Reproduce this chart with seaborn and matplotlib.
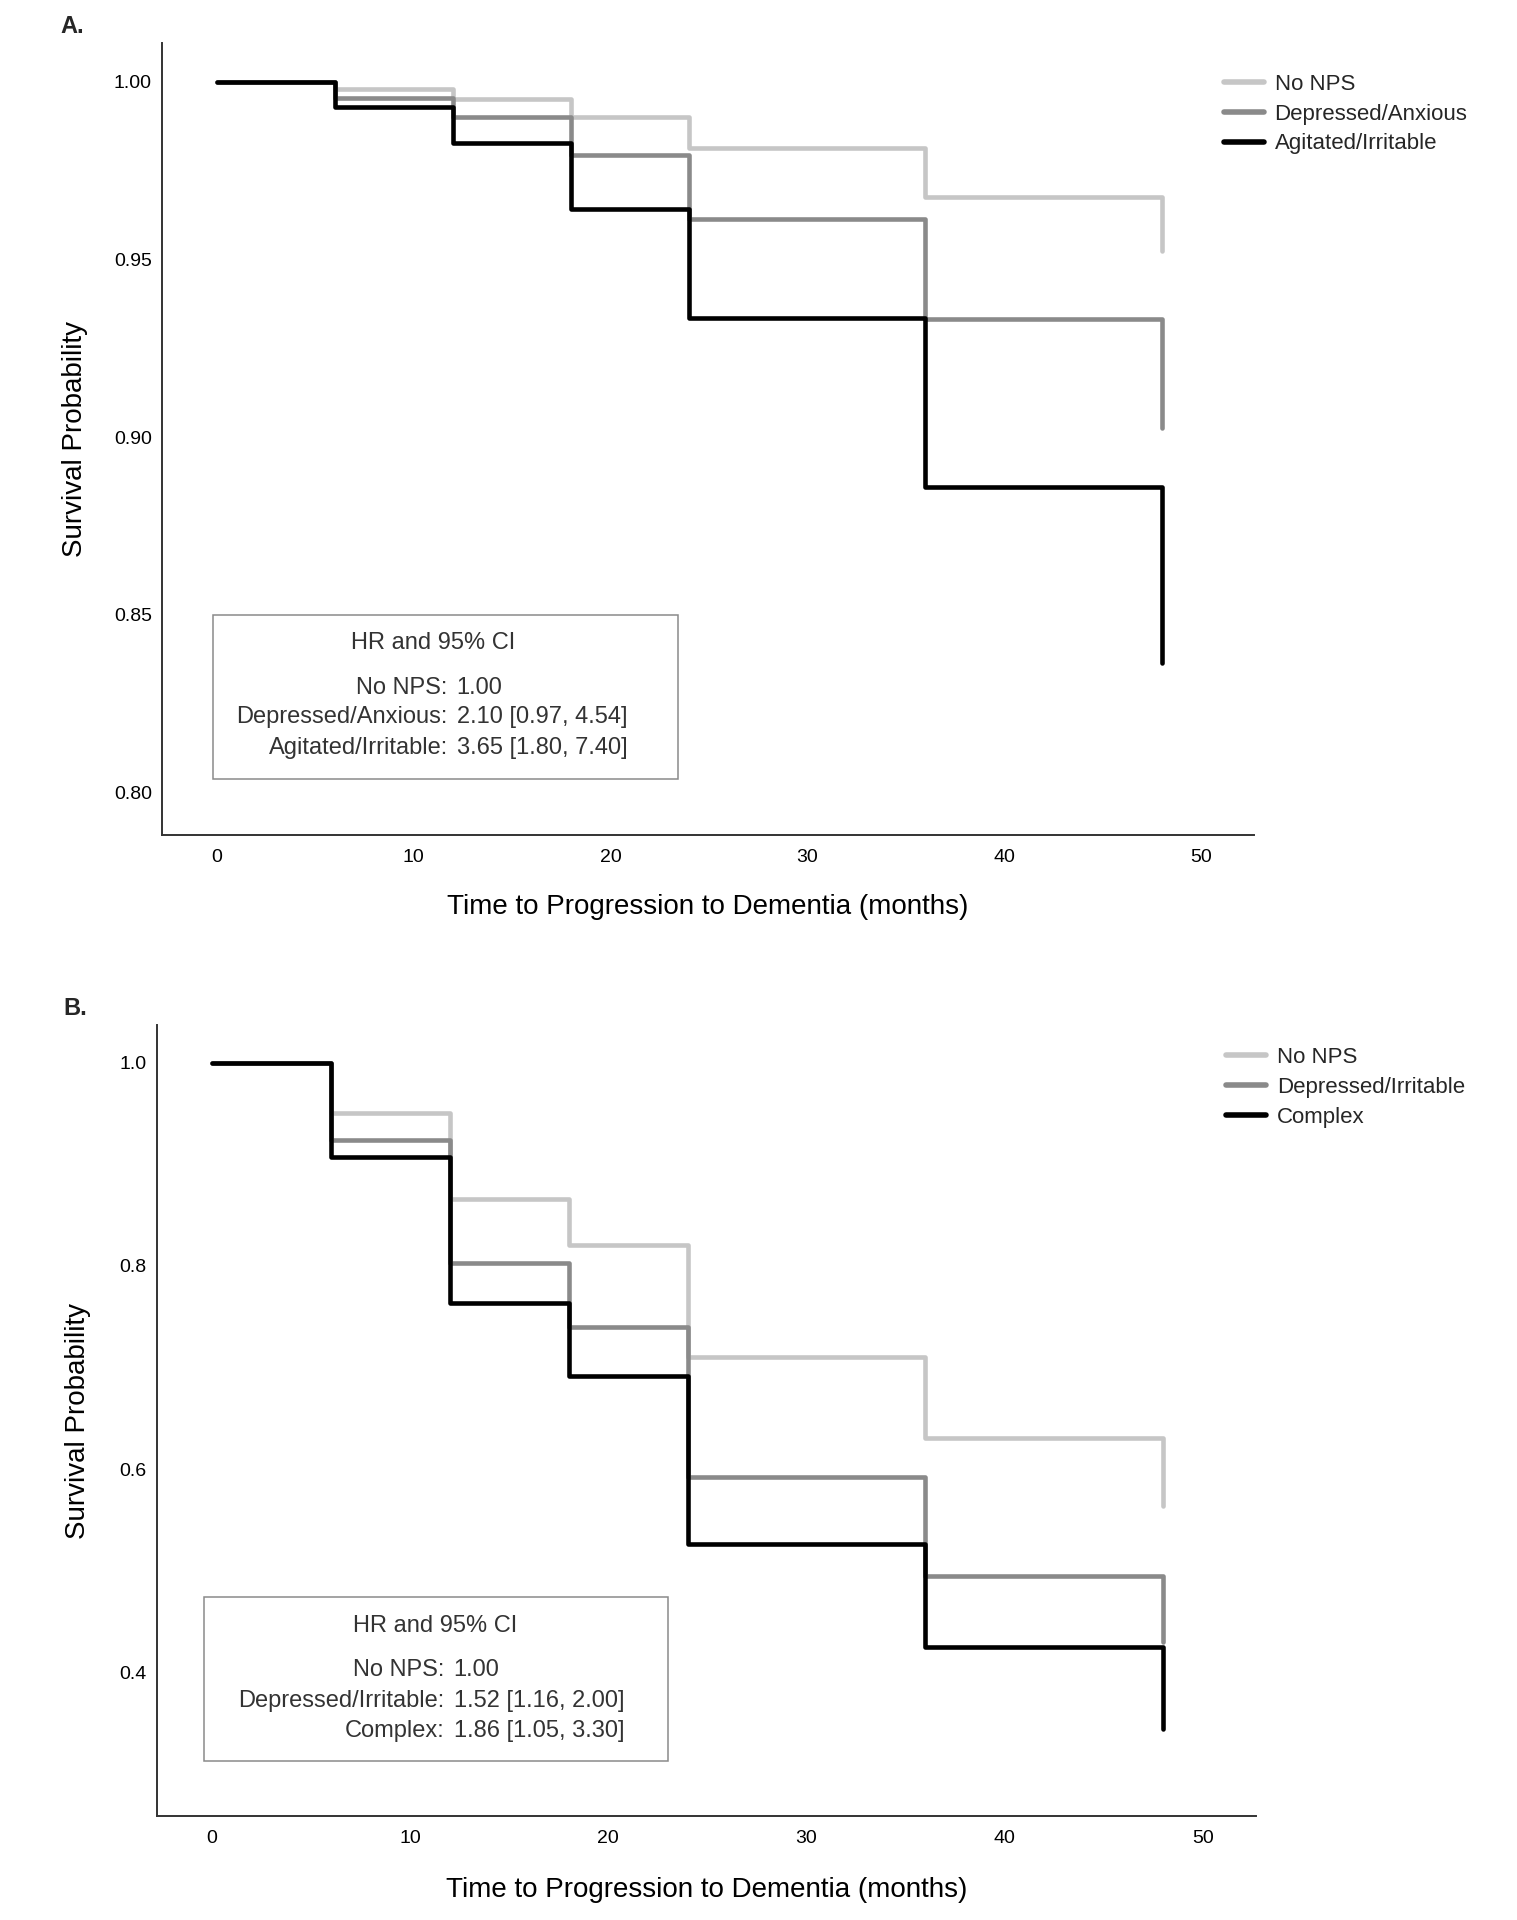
import numpy as np
import pandas as pd
import matplotlib
matplotlib.use("Agg")
import matplotlib.pyplot as plt
import seaborn as sns

# Panel A: Kaplan-Meier steps (months, survival)
months = [0, 6, 12, 18, 24, 36, 48]
groups_a = ["No NPS", "Depressed/Anxious", "Agitated/Irritable"]
surv_a_none = [1.000, 0.998, 0.9953, 0.990, 0.9815, 0.9676, 0.9525]
surv_a_dep = [1.000, 0.9955, 0.9902, 0.9793, 0.9614, 0.9332, 0.9027]
surv_a_agi = [1.000, 0.9928, 0.9829, 0.9643, 0.9336, 0.8859, 0.8365]
hr_a_labels = ["No NPS:", "Depressed/Anxious:", "Agitated/Irritable:"]
hr_a_values = ["1.00", "2.10 [0.97, 4.54]", "3.65 [1.80, 7.40]"]

# Panel B
groups_b = ["No NPS", "Depressed/Irritable", "Complex"]
surv_b_none = [1.000, 0.950, 0.866, 0.821, 0.710, 0.631, 0.564]
surv_b_dep = [1.000, 0.924, 0.803, 0.740, 0.592, 0.495, 0.430]
surv_b_cpx = [1.000, 0.907, 0.764, 0.692, 0.527, 0.425, 0.345]
hr_b_labels = ["No NPS:", "Depressed/Irritable:", "Complex:"]
hr_b_values = ["1.00", "1.52 [1.16, 2.00]", "1.86 [1.05, 3.30]"]

xticks = [0, 10, 20, 30, 40, 50]
yticks_a = [0.80, 0.85, 0.90, 0.95, 1.00]
yticks_b = [0.4, 0.6, 0.8, 1.0]

colors = ["#c6c6c6", "#8a8a8a", "#000000"]

sns.set_theme(style="white")
plt.rcParams["font.family"] = ["Liberation Sans", "DejaVu Sans"]


def long_df(groups, series):
    rows = []
    for g, s in zip(groups, series):
        for t, v in zip(months, s):
            rows.append({"time": t, "surv": v, "group": g})
    return pd.DataFrame(rows)


def draw_panel(ax, groups, series, yticks, ylim, yfmt, hr_labels, hr_values, box,
               ylab_x, xlab_y, leg_y):
    df = long_df(groups, series)
    sns.lineplot(data=df, x="time", y="surv", hue="group", hue_order=groups,
                 palette=colors, estimator=None, sort=False,
                 drawstyle="steps-post", linewidth=3.3, ax=ax, legend=False)

    ax.set_xlim(-2.8, 52.7)
    ax.set_ylim(*ylim)
    ax.set_xticks(xticks)
    ax.set_yticks(yticks)
    ax.set_yticklabels([yfmt.format(v) for v in yticks])
    ax.tick_params(axis="both", length=0, labelsize=14, colors="#000000")
    ax.tick_params(axis="x", pad=10)
    ax.tick_params(axis="y", pad=7)
    sns.despine(ax=ax)
    for s in ["left", "bottom"]:
        ax.spines[s].set_color("#333333")
        ax.spines[s].set_linewidth(1.4)

    ax.set_xlabel("Time to Progression to Dementia (months)", fontsize=20, color="black")
    ax.set_ylabel("Survival Probability", fontsize=20, color="black")
    ax.xaxis.set_label_coords(0.5, xlab_y)
    ax.yaxis.set_label_coords(ylab_x, 0.5)

    handles = [plt.Line2D([], [], color=c, lw=4) for c in colors]
    ax.legend(handles, groups, loc="upper left", bbox_to_anchor=(0.972, leg_y),
              frameon=False, fontsize=16, handlelength=1.8, handletextpad=0.5,
              labelspacing=0.4, borderaxespad=0, borderpad=0)

    x0, x1, y0, y1, tx, lys, cx = box
    rect = plt.Rectangle((x0, y0), x1 - x0, y1 - y0, transform=ax.transAxes,
                         fill=False, edgecolor="#8a8a8a", lw=1.1)
    ax.add_patch(rect)
    ax.text(tx, lys[0], "HR and 95% CI", transform=ax.transAxes, ha="center",
            va="center", fontsize=17, color="#333333")
    for lab, val, yy in zip(hr_labels, hr_values, lys[1:]):
        ax.text(cx, yy, lab, transform=ax.transAxes, ha="right", va="center",
                fontsize=17, color="#333333")
        ax.text(cx + 0.008, yy, val, transform=ax.transAxes, ha="left", va="center",
                fontsize=17, color="#333333")


fig = plt.figure(figsize=(15.17, 19.2), dpi=100)
ax_a = fig.add_axes([0.1065, 0.5650, 0.7202, 0.4127])
ax_b = fig.add_axes([0.1032, 0.0541, 0.7250, 0.4121])

draw_panel(ax_a, groups_a, [surv_a_none, surv_a_dep, surv_a_agi], yticks_a,
           (0.788, 1.011), "{:.2f}", hr_a_labels, hr_a_values,
           (0.047, 0.4726, 0.071, 0.278, 0.2486, [0.243, 0.186, 0.149, 0.110], 0.262),
           -0.067, -0.074, 0.961)
draw_panel(ax_b, groups_b, [surv_b_none, surv_b_dep, surv_b_cpx], yticks_b,
           (0.259, 1.037), "{:.1f}", hr_b_labels, hr_b_values,
           (0.0434, 0.465, 0.0696, 0.2767, 0.2536, [0.240, 0.1846, 0.146, 0.107], 0.262),
           -0.060, -0.077, 0.972)

fig.text(0.040, 0.986, "A.", fontsize=17, fontweight="bold", va="center")
fig.text(0.042, 0.4745, "B.", fontsize=17, fontweight="bold", va="center")

fig.savefig("out.png", dpi=100, facecolor="white")
